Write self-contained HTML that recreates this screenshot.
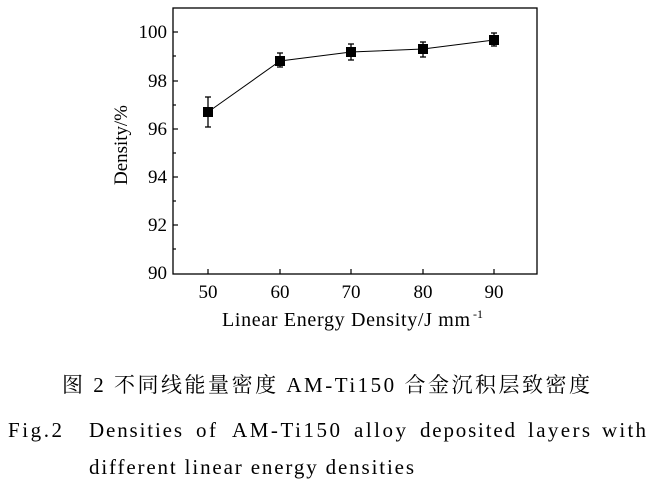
<!DOCTYPE html><html><head><style>body{margin:0;background:#fff}</style></head><body>
<svg width="652" height="488" xmlns="http://www.w3.org/2000/svg" font-family="Liberation Serif, Noto Serif CJK SC, serif">
<rect x="173" y="8" width="364" height="266" fill="none" stroke="#000" stroke-width="1.3"/>
<g stroke="#000" stroke-width="1.2">
<line x1="173" y1="32" x2="178" y2="32"/><line x1="173" y1="81" x2="178" y2="81"/><line x1="173" y1="129" x2="178" y2="129"/><line x1="173" y1="177" x2="178" y2="177"/><line x1="173" y1="225" x2="178" y2="225"/>
<line x1="173" y1="56" x2="176" y2="56"/><line x1="173" y1="105" x2="176" y2="105"/><line x1="173" y1="153" x2="176" y2="153"/><line x1="173" y1="201" x2="176" y2="201"/><line x1="173" y1="249" x2="176" y2="249"/>
<line x1="208" y1="274" x2="208" y2="269"/><line x1="280" y1="274" x2="280" y2="269"/><line x1="351" y1="274" x2="351" y2="269"/><line x1="423" y1="274" x2="423" y2="269"/><line x1="494" y1="274" x2="494" y2="269"/>
</g>
<polyline points="208,112 280,61 351,52 423,49 494,40" fill="none" stroke="#000" stroke-width="1"/>
<g stroke="#000" stroke-width="1.3">
<line x1="208" y1="97" x2="208" y2="127"/><line x1="205" y1="97" x2="211" y2="97"/><line x1="205" y1="127" x2="211" y2="127"/>
<line x1="280" y1="53" x2="280" y2="67"/><line x1="277" y1="53" x2="283" y2="53"/><line x1="277" y1="67" x2="283" y2="67"/>
<line x1="351" y1="44" x2="351" y2="60"/><line x1="348" y1="44" x2="354" y2="44"/><line x1="348" y1="60" x2="354" y2="60"/>
<line x1="423" y1="42" x2="423" y2="57"/><line x1="420" y1="42" x2="426" y2="42"/><line x1="420" y1="57" x2="426" y2="57"/>
<line x1="494" y1="33" x2="494" y2="46"/><line x1="491" y1="33" x2="497" y2="33"/><line x1="491" y1="46" x2="497" y2="46"/>
</g>
<g fill="#000"><rect x="203" y="107" width="10" height="10"/><rect x="275" y="56" width="10" height="10"/><rect x="346" y="47" width="10" height="10"/><rect x="418" y="44" width="10" height="10"/><rect x="489" y="35" width="10" height="10"/></g>
<g font-size="19" text-anchor="end"><text x="167" y="38">100</text><text x="167" y="87">98</text><text x="167" y="135">96</text><text x="167" y="183">94</text><text x="167" y="231">92</text><text x="167" y="279">90</text></g>
<g font-size="19" text-anchor="middle"><text x="208" y="298">50</text><text x="280" y="298">60</text><text x="351" y="298">70</text><text x="423" y="298">80</text><text x="494" y="298">90</text></g>
<text x="222" y="326" font-size="20" textLength="248" lengthAdjust="spacing">Linear Energy Density/J mm</text><text x="473" y="318" font-size="12">-1</text>
<text transform="translate(127,145) rotate(-90)" font-size="19" text-anchor="middle" textLength="80" lengthAdjust="spacing">Density/%</text>
<text x="62" y="392" font-size="21" textLength="528" lengthAdjust="spacing">图 2  不同线能量密度 AM-Ti150 合金沉积层致密度</text>
<g font-size="21">
<text x="8" y="437" textLength="54" lengthAdjust="spacing">Fig.2</text>
<text x="89" y="437" textLength="93" lengthAdjust="spacing">Densities</text>
<text x="196" y="437" textLength="20" lengthAdjust="spacing">of</text>
<text x="232" y="437" textLength="108" lengthAdjust="spacing">AM-Ti150</text>
<text x="354" y="437" textLength="52" lengthAdjust="spacing">alloy</text>
<text x="420" y="437" textLength="95" lengthAdjust="spacing">deposited</text>
<text x="528" y="437" textLength="62" lengthAdjust="spacing">layers</text>
<text x="602" y="437" textLength="44" lengthAdjust="spacing">with</text>
<text x="89" y="474" textLength="325" lengthAdjust="spacing">different linear energy densities</text>
</g>
</svg></body></html>
